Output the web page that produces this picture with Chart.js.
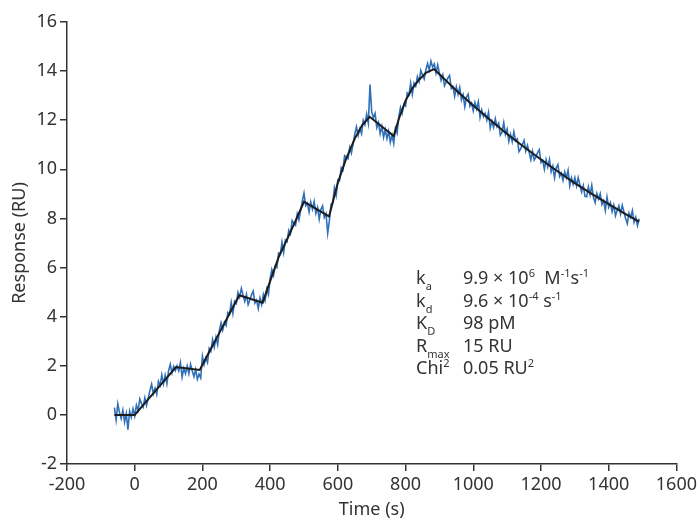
<!DOCTYPE html>
<html>
<head>
<meta charset="utf-8">
<script src="https://cdn.jsdelivr.net/npm/chart.js@4.4.1/dist/chart.umd.min.js"></script>
<style>
  html, body { margin: 0; padding: 0; background: #fff; }
  #wrap { position: relative; width: 700px; height: 521px; }
  #params {
    position: absolute; left: 416px; top: 266px;
    font-family: "Noto Sans", sans-serif; font-size: 18px; color: #333;
    display: grid; grid-template-columns: 47px auto; line-height: 22.6px;
  }
  #params sub { font-size: 11px; vertical-align: -6px; line-height: 0; }
  #params sup { font-size: 11px; vertical-align: 7px; line-height: 0; }
</style>
</head>
<body>
<div id="wrap">
  <canvas id="chart" width="700" height="521"></canvas>
  <div id="params">
    <div>k<sub>a</sub></div><div>9.9 × 10<sup>6</sup>&nbsp; M<sup>-1</sup>s<sup>-1</sup></div>
    <div>k<sub>d</sub></div><div>9.6 × 10<sup>-4</sup> s<sup>-1</sup></div>
    <div>K<sub>D</sub></div><div>98 pM</div>
    <div>R<sub>max</sub></div><div>15 RU</div>
    <div>Chi<sup>2</sup></div><div>0.05 RU<sup>2</sup></div>
  </div>
</div>
<script>
// measured sensorgram, sampled every 5 s (one row per 100 s)
const times = [
  -60, -55, -50, -45, -40, -35, -30, -25, -20, -15, -10, -5,
  0, 5, 10, 15, 20, 25, 30, 35, 40, 45, 50, 55, 60, 65, 70, 75, 80, 85, 90, 95,
  100, 105, 110, 115, 120, 125, 130, 135, 140, 145, 150, 155, 160, 165, 170, 175, 180, 185, 190, 195,
  200, 205, 210, 215, 220, 225, 230, 235, 240, 245, 250, 255, 260, 265, 270, 275, 280, 285, 290, 295,
  300, 305, 310, 315, 320, 325, 330, 335, 340, 345, 350, 355, 360, 365, 370, 375, 380, 385, 390, 395,
  400, 405, 410, 415, 420, 425, 430, 435, 440, 445, 450, 455, 460, 465, 470, 475, 480, 485, 490, 495,
  500, 505, 510, 515, 520, 525, 530, 535, 540, 545, 550, 555, 560, 565, 570, 575, 580, 585, 590, 595,
  600, 605, 610, 615, 620, 625, 630, 635, 640, 645, 650, 655, 660, 665, 670, 675, 680, 685, 690, 695,
  700, 705, 710, 715, 720, 725, 730, 735, 740, 745, 750, 755, 760, 765, 770, 775, 780, 785, 790, 795,
  800, 805, 810, 815, 820, 825, 830, 835, 840, 845, 850, 855, 860, 865, 870, 875, 880, 885, 890, 895,
  900, 905, 910, 915, 920, 925, 930, 935, 940, 945, 950, 955, 960, 965, 970, 975, 980, 985, 990, 995,
  1000, 1005, 1010, 1015, 1020, 1025, 1030, 1035, 1040, 1045, 1050, 1055, 1060, 1065, 1070, 1075, 1080, 1085, 1090, 1095,
  1100, 1105, 1110, 1115, 1120, 1125, 1130, 1135, 1140, 1145, 1150, 1155, 1160, 1165, 1170, 1175, 1180, 1185, 1190, 1195,
  1200, 1205, 1210, 1215, 1220, 1225, 1230, 1235, 1240, 1245, 1250, 1255, 1260, 1265, 1270, 1275, 1280, 1285, 1290, 1295,
  1300, 1305, 1310, 1315, 1320, 1325, 1330, 1335, 1340, 1345, 1350, 1355, 1360, 1365, 1370, 1375, 1380, 1385, 1390, 1395,
  1400, 1405, 1410, 1415, 1420, 1425, 1430, 1435, 1440, 1445, 1450, 1455, 1460, 1465, 1470, 1475, 1480, 1485, 1490
];
const response = [
  0.3, -0.2, 0.45, 0.1, -0.15, 0.2, -0.3, 0.05, -0.6, 0.15, -0.1, 0.25,
  -0.05, 0.40, 0.18, 0.65, 0.47, 0.32, 0.70, 0.39, 0.69, 1.00, 1.25, 0.86, 1.08, 0.84, 1.37, 1.20, 1.63, 1.26, 1.62, 1.27,
  1.80, 2.06, 1.71, 1.98, 1.80, 2.00, 1.79, 2.13, 1.54, 1.90, 1.68, 1.99, 1.68, 2.06, 1.79, 1.56, 1.85, 1.45, 1.66, 1.50,
  2.39, 2.05, 2.32, 2.13, 2.71, 2.59, 3.07, 2.75, 3.16, 2.86, 3.44, 3.75, 3.45, 3.77, 3.64, 4.17, 4.10, 4.58, 4.13, 4.63,
  4.54, 4.99, 4.79, 5.15, 4.87, 4.62, 4.90, 4.49, 4.68, 4.89, 5.04, 4.55, 4.67, 4.33, 4.76, 4.49, 4.90, 4.65, 5.13, 4.90,
  5.55, 5.92, 5.68, 6.07, 6.00, 6.59, 6.55, 7.04, 6.61, 7.12, 7.05, 7.52, 7.37, 7.91, 7.80, 7.72, 8.18, 7.94, 8.32, 8.70,
  9.03, 8.52, 8.62, 8.26, 8.67, 8.38, 8.69, 8.20, 8.44, 7.97, 8.37, 8.51, 8.04, 8.19, 7.40, 7.91, 8.58, 8.64, 9.25, 8.94,
  9.57, 9.55, 10.07, 9.97, 10.56, 10.50, 10.43, 10.89, 10.66, 11.04, 11.43, 11.73, 11.38, 11.65, 11.45, 12.00, 11.82, 12.25, 11.88, 13.45,
  12.35, 12.10, 12.28, 11.70, 11.90, 11.45, 11.75, 11.30, 11.62, 11.25, 11.55, 11.10, 11.40, 11.05, 11.67, 11.47, 12.15, 12.52, 12.28, 12.65,
  12.58, 13.11, 13.03, 13.51, 13.05, 13.51, 13.38, 13.78, 13.57, 14.03, 13.84, 13.68, 14.05, 14.31, 14.04, 14.41, 14.16, 14.29, 13.92, 14.25,
  13.92, 13.62, 13.85, 13.40, 13.55, 13.72, 13.82, 13.29, 13.36, 12.98, 13.36, 13.05, 13.34, 12.83, 13.04, 12.55, 12.94, 13.06, 12.57, 12.70,
  12.38, 12.72, 12.46, 12.75, 12.11, 12.42, 12.14, 12.28, 12.00, 12.32, 11.68, 11.97, 11.71, 12.06, 11.74, 11.88, 11.39, 11.51, 11.90, 11.42,
  11.64, 11.14, 11.43, 11.13, 11.53, 11.16, 11.24, 10.72, 10.83, 11.01, 11.18, 10.74, 10.98, 10.70, 10.39, 10.73, 10.38, 10.50, 10.68, 10.80,
  10.28, 10.37, 10.00, 10.40, 10.10, 10.40, 9.90, 10.13, 9.65, 10.06, 10.19, 9.71, 9.85, 9.55, 9.90, 9.66, 9.96, 9.33, 9.65, 9.39,
  9.66, 9.32, 9.66, 9.36, 9.08, 9.34, 8.90, 8.88, 9.29, 8.96, 9.35, 8.86, 8.64, 9.02, 8.79, 9.01, 8.57, 8.72, 8.33, 8.87,
  8.46, 8.64, 8.28, 8.54, 8.11, 8.33, 8.52, 8.18, 8.53, 8.27, 8.00, 7.79, 8.22, 8.04, 8.32, 7.84, 8.05, 7.71, 7.99
];

// 1:1 binding model fit
const fitTimes = [
  -60, 0, 30, 60, 90, 122, 192, 220, 250, 280, 309, 378, 400, 426, 450, 475, 500,
  574, 600, 625, 650, 672, 694, 765, 780, 800, 820, 840, 860, 884,
  900, 950, 1000, 1050, 1100, 1150, 1200, 1250, 1300, 1350, 1400, 1450, 1490
];
const fitValues = [
  0, 0, 0.48, 0.96, 1.44, 1.95, 1.83, 2.56, 3.34, 4.12, 4.87, 4.57, 5.45, 6.45, 7.15, 7.9, 8.68,
  8.08, 9.45, 10.45, 11.25, 11.8, 12.14, 11.36, 12.05, 12.8, 13.3, 13.65, 13.93, 14.08,
  13.87, 13.21, 12.6, 12.01, 11.44, 10.91, 10.4, 9.91, 9.44, 9.0, 8.58, 8.18, 7.87
];

const xTicks = [-200, 0, 200, 400, 600, 800, 1000, 1200, 1400, 1600];
const yTicks = [-2, 0, 2, 4, 6, 8, 10, 12, 14, 16];

const font = "'Noto Sans', sans-serif";
const axisColor = "#333";

new Chart(document.getElementById("chart"), {
  type: "scatter",
  data: {
    datasets: [
      {
        label: "Fit",
        data: fitTimes.map((t, i) => ({ x: t, y: fitValues[i] })),
        showLine: true,
        borderColor: "#1c1c1c",
        borderWidth: 2,
        pointRadius: 0,
        tension: 0
      },
      {
        label: "Response",
        data: times.map((t, i) => ({ x: t, y: response[i] })),
        showLine: true,
        borderColor: "#3070b8",
        borderWidth: 1.6,
        pointRadius: 0,
        tension: 0
      }
    ]
  },
  options: {
    responsive: false,
    animation: false,
    layout: { padding: { left: 9, right: 0, top: 22, bottom: 0 } },
    plugins: { legend: { display: false }, tooltip: { enabled: false } },
    scales: {
      x: {
        type: "linear",
        min: -200,
        max: 1600,
        afterBuildTicks: (scale) => { scale.ticks = xTicks.map((v) => ({ value: v })); },
        afterFit: (scale) => { scale.height = 57; },
        grid: { drawOnChartArea: false, drawTicks: true, tickLength: 7, color: axisColor, lineWidth: 1.5 },
        border: { color: axisColor, width: 1.5 },
        ticks: { color: axisColor, font: { family: font, size: 18 }, padding: 3, maxRotation: 0, callback: (v) => String(v) },
        title: { display: true, text: "Time (s)", color: axisColor, font: { family: font, size: 18 }, padding: 0 }
      },
      y: {
        min: -2,
        max: 16,
        afterBuildTicks: (scale) => { scale.ticks = yTicks.map((v) => ({ value: v })); },
        afterFit: (scale) => { scale.width = 58; },
        grid: { drawOnChartArea: false, drawTicks: true, tickLength: 7, color: axisColor, lineWidth: 1.5 },
        border: { color: axisColor, width: 1.5 },
        ticks: { color: axisColor, font: { family: font, size: 18 }, padding: 3, callback: (v) => String(v) },
        title: { display: true, text: "Response (RU)", color: axisColor, font: { family: font, size: 18 }, padding: 0 }
      }
    }
  }
});
</script>
</body>
</html>
